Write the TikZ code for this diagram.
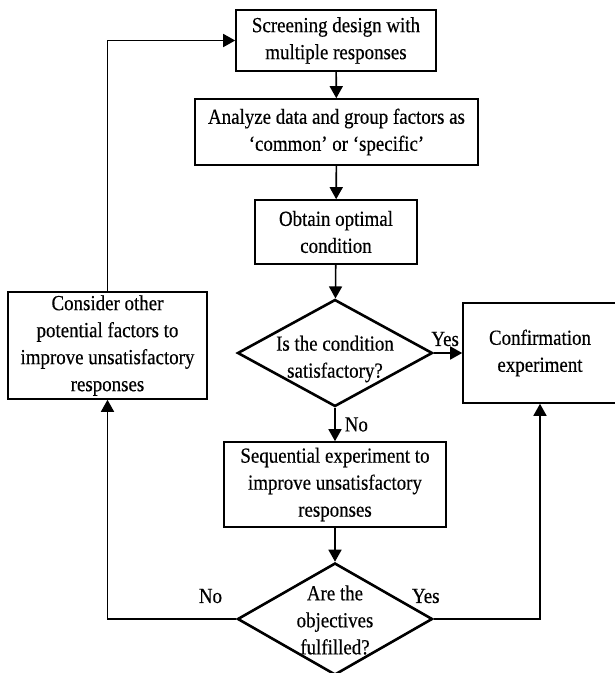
\documentclass[tikz,border=0pt]{standalone}
\usepackage{fontspec}
\setmainfont{Liberation Serif}[FakeStretch=0.88,FakeBold=0.4]
\usetikzlibrary{shapes.geometric,arrows.meta}
\newcommand{\flowfont}{\fontsize{21.5}{27}\selectfont}

\begin{document}
\begin{tikzpicture}[x=1pt,y=-1pt,
	>={Triangle[length=12pt,width=13pt]},
	stepbox/.style={rectangle, draw, line width=1.6pt, inner sep=0pt, align=center, font=\flowfont},
	decision/.style={diamond, draw, line width=2.6pt, inner sep=0pt, minimum width=195pt},
	flow/.style={line width=1.6pt},
	tag/.style={font=\flowfont, inner sep=1pt}]
	\useasboundingbox (0,0) rectangle (615,673);

	\node 	(scr)	at	(336,40.5) 	[stepbox, minimum width=200pt, minimum height=61pt]{Screening design with\\multiple responses};

	\node 	(ana)	at	(336.5,132) 	[stepbox, minimum width=283pt, minimum height=66pt]{Analyze data and group factors as\\`common' or `specific'}
		edge[<-,flow]			(scr);

	\node 	(opt)	at	(336,232) 	[stepbox, minimum width=162pt, minimum height=64pt]{Obtain optimal\\condition}
		edge[<-,flow]			(ana);

	\node 	(dec1)	at	(335,353) 	[decision, minimum height=107pt, label={[tag,align=center,yshift=-6pt]center:Is the condition\\satisfactory?}]{}
		edge[<-,flow]			(opt);

	\node 	(conf)	at	(540,353) 	[stepbox, minimum width=154pt, minimum height=100pt]{Confirmation\\experiment}
		edge[<-,flow]			node[tag,above=5pt,pos=0.6]{Yes}	(dec1);

	\node 	(seq)	at	(335,484.5) 	[stepbox, minimum width=222pt, minimum height=85pt]{Sequential experiment to\\improve unsatisfactory\\responses}
		edge[<-,flow]			node[tag,right=8pt]{No}	(dec1);

	\node 	(dec2)	at	(335,619) 	[decision, minimum height=112pt, label={[tag,align=center,yshift=-1pt]center:Are the\\objectives\\fulfilled?}]{}
		edge[<-,flow]			(seq);

	\node 	(cons)	at	(107.5,345.5) 	[stepbox, minimum width=199pt, minimum height=107pt]{Consider other\\potential factors to\\improve unsatisfactory\\responses};

	\draw[->,flow] (dec2.west) -- node[tag,above=14pt,pos=0.2]{No} (dec2.west -| cons.south) -- (cons.south);
	\draw[->,flow] (dec2.east) -- node[tag,above=14pt,pos=0,xshift=-8pt]{Yes} (dec2.east -| conf.south) -- (conf.south);
	\draw[->,flow] (cons.north) -- (cons.north |- scr.west) -- (scr.west);

\end{tikzpicture}
\end{document}
